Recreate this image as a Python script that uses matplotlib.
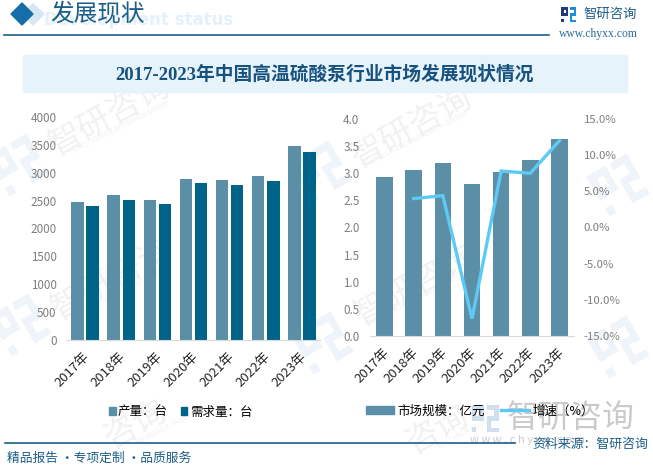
import math
import matplotlib
matplotlib.use("Agg")
import matplotlib.pyplot as plt
from matplotlib.patches import Polygon, Rectangle
from matplotlib.lines import Line2D
from matplotlib.transforms import ScaledTranslation

plt.rcParams['font.family'] = ['Noto Sans CJK SC', 'DejaVu Sans']

years = ['2017年', '2018年', '2019年', '2020年', '2021年', '2022年', '2023年']
production = [2478, 2605, 2515, 2892, 2874, 2946, 3485]
demand = [2407, 2515, 2443, 2820, 2784, 2856, 3377]
market = [2.93, 3.06, 3.19, 2.80, 3.02, 3.24, 3.63]
growth = [None, 4.0, 4.4, -12.6, 7.8, 7.5, 12.0]

W, H = 653, 467
C_LIGHT = '#5b8fa8'
C_DARK = '#006388'
C_LINE = '#5ec9f3'
C_HEAD = '#1b5e8a'
C_TICK = '#7f7f7f'
C_AXIS = '#d9d9d9'

fig = plt.figure(figsize=(W / 100, H / 100), dpi=100, facecolor='white')

# page-level decoration layer in pixel coordinates
bg = fig.add_axes([0, 0, 1, 1], zorder=0)
bg.set_xlim(0, W)
bg.set_ylim(H, 0)
bg.axis('off')

LOGO_LEFT = [(0, 0, .45, .17), (0, 0, .17, .6), (0, .42, .45, .16), (.33, 0, .14, .58), (0, .8, .17, .2)]
LOGO_RIGHT = [(.58, 0, .42, .17), (.85, 0, .15, .6), (.58, .42, .42, .16), (.58, .42, .15, .58), (.58, .84, .42, .16)]


def logo(cx, cy, size, left_color, right_color, angle=0, z=2):
    a = math.radians(angle)
    for parts, col in ((LOGO_LEFT, left_color), (LOGO_RIGHT, right_color)):
        for u, v, du, dv in parts:
            pts = []
            for pu, pv in ((u, v), (u + du, v), (u + du, v + dv), (u, v + dv)):
                x = (pu - .5) * size
                y = (pv - .5) * size
                pts.append((cx + x * math.cos(a) + y * math.sin(a),
                            cy - x * math.sin(a) + y * math.cos(a)))
            bg.add_patch(Polygon(pts, color=col, lw=0, zorder=z))


for x, y in [(110, 116), (412, 128), (112, 280), (415, 286)]:
    bg.text(x, y, '智研咨询', fontsize=24, color='#f1f1f1', rotation=29,
            ha='center', va='center', zorder=1)
for x, y in [(135, 425), (437, 430)]:
    bg.text(x, y, '咨询', fontsize=24, color='#f1f1f1', rotation=29,
            ha='center', va='center', zorder=1)
for x, y in [(120, 127), (418, 138), (120, 292), (418, 298)]:
    bg.text(x, y, 'INTELLIGENCE RESEARCH GROUP', fontsize=5, color='#f1f1f1',
            rotation=27, ha='center', va='center', zorder=1)
for x, y in [(165, 428), (465, 432)]:
    bg.text(x, y, 'RESEARCH GROUP', fontsize=5, color='#f1f1f1',
            rotation=27, ha='center', va='center', zorder=1)
for x, y in [(18, 165), (320, 172), (618, 185), (20, 325), (322, 343), (618, 347)]:
    logo(x, y, 46, '#eef4f9', '#eef4f9', angle=30, z=1)

bg.add_patch(Polygon([(33, 4), (44, 14), (33, 25), (22, 14)], color='#d6e6f2', zorder=2))
bg.add_patch(Polygon([(22, 3), (33, 14), (22, 25), (11, 14)], color='#156ea8', zorder=3))
bg.text(233, 20, 'Development status', fontsize=12, fontweight='bold', color='#e4f1fa',
        ha='right', va='center', family='DejaVu Sans', zorder=2)
bg.text(50, 14, '发展现状', fontsize=17, color=C_HEAD, ha='left', va='center', zorder=3)
bg.plot([4, 549], [35, 35], color=C_HEAD, lw=1.2, zorder=3)

# brand mark, top right
logo(568.5, 14.5, 15, '#22397a', '#1e8ed8', z=3)
bg.text(583, 14, '智研咨询', fontsize=9.6, color=C_HEAD, ha='left', va='center', zorder=3)
bg.text(559, 34, 'www.chyxx.com', fontsize=8.4, color='#2a6a9a', ha='left', va='center',
        family='Liberation Serif', zorder=3)

bg.add_patch(Rectangle((23, 55), 604, 37, color='#e6f3fb', zorder=2))
bg.text(325, 74, '2017-2023年中国高温硫酸泵行业市场发展现状情况', fontsize=13.5, fontweight='bold',
        color='#17527f', ha='center', va='center',
        family=['Liberation Serif', 'Noto Sans CJK SC'], zorder=3)

# bottom band
bg.plot([5, 515], [443, 443], color=C_HEAD, lw=1.2, zorder=3)
bg.text(7, 458, '精品报告 ·专项定制 ·品质服务', fontsize=9.2, color=C_HEAD,
        ha='left', va='center', zorder=3)
bg.text(648, 444, '资料来源：智研咨询', fontsize=9.3, color=C_HEAD, ha='right', va='center', zorder=3)
bg.text(571, 418, '智研咨询', fontsize=23, color='#cacaca', ha='center', va='center', zorder=2)
bg.text(470, 440, 'w w w . c h y x x . c o m', fontsize=8, color='#cacaca',
        ha='left', va='center', zorder=2)
logo(485, 418.5, 27, '#cfdff0', '#cfdff0', z=2)


def make_axes(x0, x1, y_top, y_bot):
    ax = fig.add_axes([x0 / W, 1 - y_bot / H, (x1 - x0) / W, (y_bot - y_top) / H], zorder=5)
    ax.patch.set_alpha(0)
    for s in ['top', 'left', 'right']:
        ax.spines[s].set_visible(False)
    ax.spines['bottom'].set_color(C_AXIS)
    ax.tick_params(axis='both', length=0)
    ax.tick_params(axis='y', labelsize=8.4, labelcolor=C_TICK, pad=7.6)
    ax.tick_params(axis='x', labelsize=9.5, labelcolor='#262626', pad=3)
    return ax


def year_labels(ax):
    ax.set_xticks(pos)
    ax.set_xticklabels(years, rotation=45, ha='right', rotation_mode='anchor')
    shift = ScaledTranslation(-2 / 100, -6 / 100, fig.dpi_scale_trans)
    for lab in ax.get_xticklabels():
        lab.set_transform(lab.get_transform() + shift)


pos = list(range(len(years)))

# left chart
ax1 = make_axes(67, 320, 117, 340)
w = 0.345
ax1.bar([p - 0.21 for p in pos], production, w, color=C_LIGHT)
ax1.bar([p + 0.21 for p in pos], demand, w, color=C_DARK)
ax1.set_xlim(-0.5, 6.5)
ax1.set_ylim(0, 4000)
ax1.set_yticks(range(0, 4001, 500))
year_labels(ax1)
ax1.legend(handles=[Rectangle((0, 0), 1, 1, color=C_LIGHT), Rectangle((0, 0), 1, 1, color=C_DARK)],
           labels=['产量：台', '需求量：台'], loc='center', bbox_to_anchor=(180.5 / W, 1 - 412 / H),
           bbox_transform=fig.transFigure, ncol=2, frameon=False, fontsize=9,
           handlelength=0.55, handleheight=0.55, handletextpad=0.2, columnspacing=1.0)

# right chart
ax2 = make_axes(370, 574, 119, 336)
ax2.bar(pos, market, 0.57, color=C_LIGHT)
ax2.set_xlim(-0.5, 6.5)
ax2.set_ylim(0, 4)
ax2.set_yticks([i / 2 for i in range(9)])
ax2.set_yticklabels([f'{i / 2:.1f}' for i in range(9)])
year_labels(ax2)

ax3 = ax2.twinx()
ax3.patch.set_alpha(0)
for s in ax3.spines.values():
    s.set_visible(False)
ax3.plot(pos[1:], growth[1:], color=C_LINE, lw=2.4, solid_joinstyle='miter')
ax3.set_ylim(-15, 15)
ax3.set_yticks(range(-15, 16, 5))
ax3.set_yticklabels([f'{v:.1f}%' for v in range(-15, 16, 5)])
ax3.tick_params(axis='y', length=0, labelsize=8.2, labelcolor=C_TICK, pad=7)

ax3.legend(handles=[Rectangle((0, 0), 1, 1, color=C_LIGHT), Line2D([0], [0], color=C_LINE, lw=2.4)],
           labels=['市场规模：亿元', '增速（%）'], loc='center', bbox_to_anchor=(480 / W, 1 - 411 / H),
           bbox_transform=fig.transFigure, ncol=2, frameon=False, fontsize=9,
           handlelength=2.2, handleheight=0.55, handletextpad=0.3, columnspacing=1.3)

fig.savefig('out.png', dpi=100)
